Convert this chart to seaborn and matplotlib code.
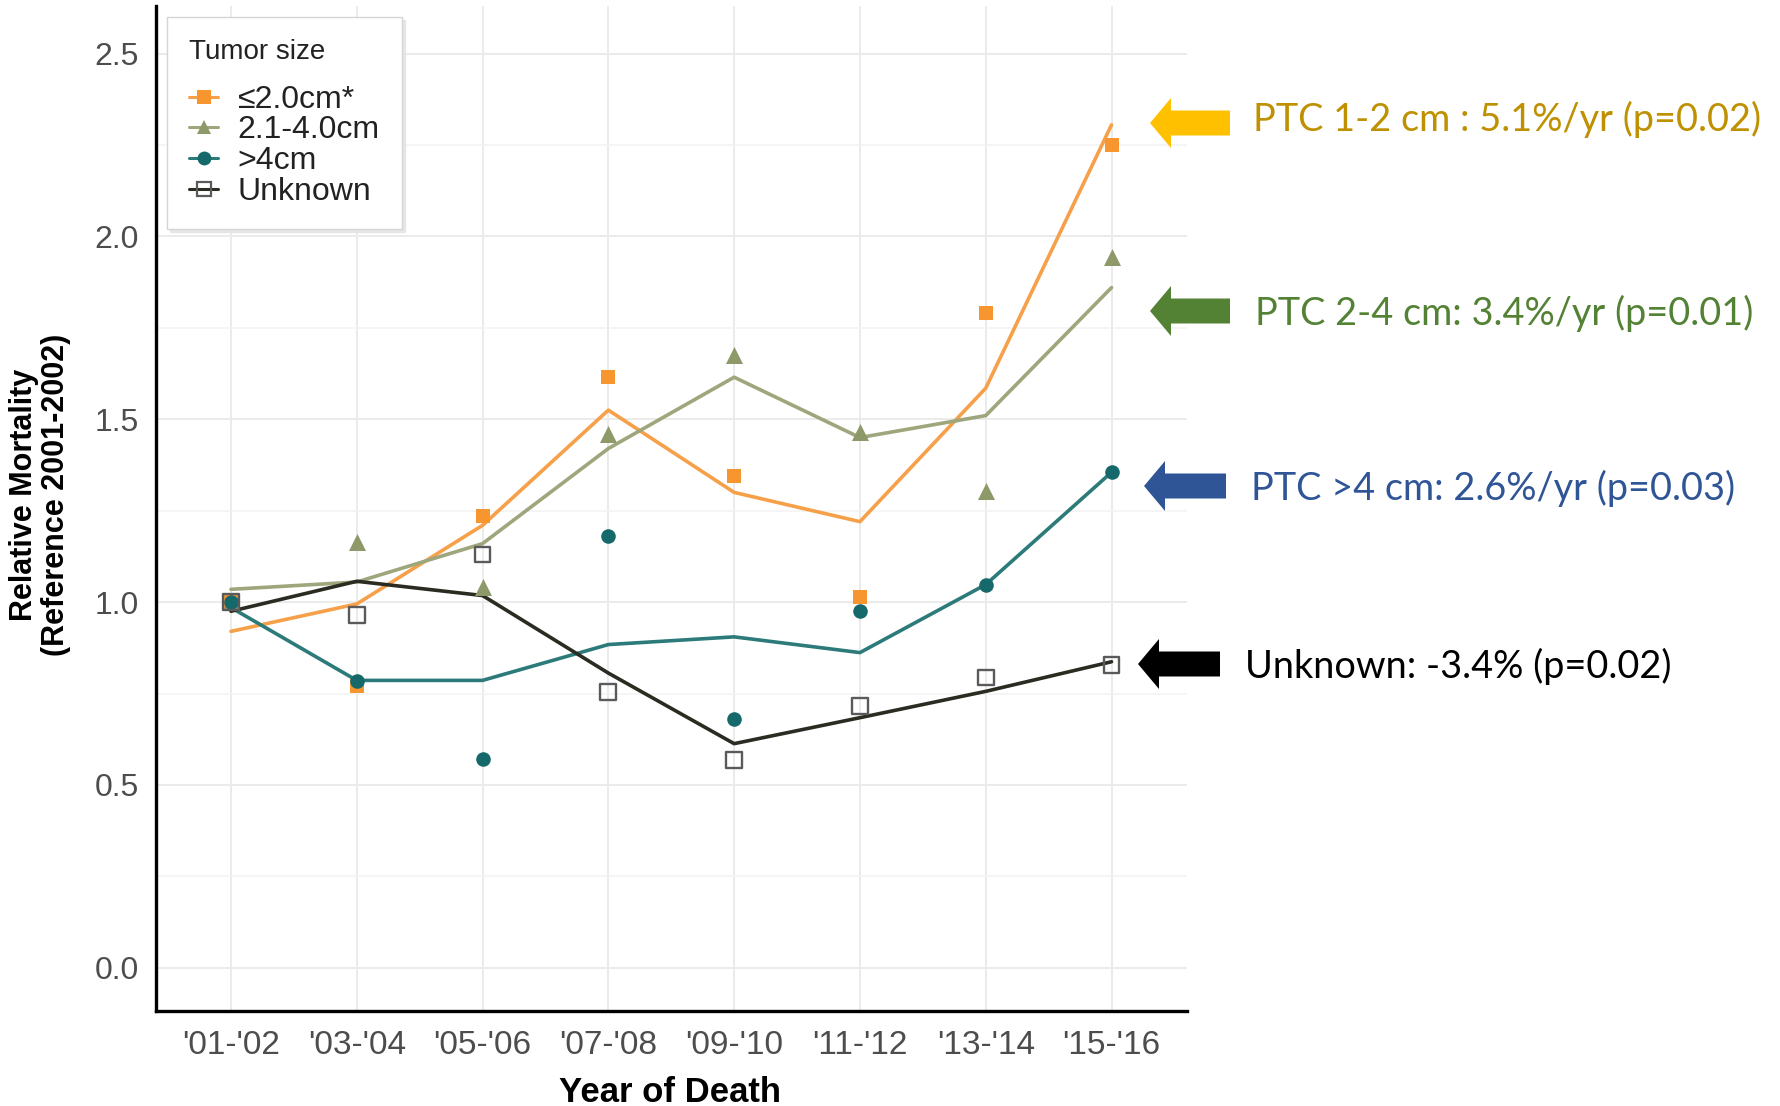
import numpy as np
import pandas as pd
import matplotlib
matplotlib.use("Agg")
import matplotlib.pyplot as plt
from matplotlib.lines import Line2D
from matplotlib.patches import FancyArrow
import seaborn as sns

# ---- data -------------------------------------------------------------
periods = ["'01-'02", "'03-'04", "'05-'06", "'07-'08",
           "'09-'10", "'11-'12", "'13-'14", "'15-'16"]
groups = ["\u22642.0cm*", "2.1-4.0cm", ">4cm", "Unknown"]

# observed relative mortality (points)
obs_le2 = [1.00, 0.77, 1.235, 1.615, 1.345, 1.015, 1.79, 2.25]
obs_mid = [1.00, 1.165, 1.04, 1.46, 1.675, 1.465, 1.305, 1.945]
obs_gt4 = [1.00, 0.785, 0.572, 1.18, 0.68, 0.975, 1.048, 1.355]
obs_unk = [1.00, 0.965, 1.13, 0.754, 0.569, 0.717, 0.794, 0.828]

# fitted trend (lines)
fit_le2 = [0.92, 0.995, 1.21, 1.525, 1.30, 1.22, 1.585, 2.305]
fit_mid = [1.035, 1.055, 1.16, 1.42, 1.615, 1.45, 1.51, 1.86]
fit_gt4 = [0.985, 0.786, 0.786, 0.884, 0.905, 0.862, 1.048, 1.355]
fit_unk = [0.975, 1.057, 1.018, 0.806, 0.613, 0.684, 0.756, 0.837]

y_ticks = [0.0, 0.5, 1.0, 1.5, 2.0, 2.5]
y_minor = [0.25, 0.75, 1.25, 1.75, 2.25]

trend_notes = ["PTC 1-2 cm : 5.1%/yr (p=0.02)",
               "PTC 2-4 cm: 3.4%/yr (p=0.01)",
               "PTC >4 cm: 2.6%/yr (p=0.03)",
               "Unknown: -3.4% (p=0.02)"]

rows = []
for g, obs, fit in zip(groups, [obs_le2, obs_mid, obs_gt4, obs_unk],
                       [fit_le2, fit_mid, fit_gt4, fit_unk]):
    for p, o, f in zip(periods, obs, fit):
        rows.append({"period": p, "group": g, "observed": o, "fitted": f})
df = pd.DataFrame(rows)

# ---- styling ----------------------------------------------------------
line_colors = {groups[0]: "#F6A04A", groups[1]: "#9EA67C",
               groups[2]: "#2C7A79", groups[3]: "#2B2B22"}
point_colors = {groups[0]: "#F7962F", groups[1]: "#8D9968",
                groups[2]: "#16696A", groups[3]: "#5A5A5A"}
point_markers = {groups[0]: "s", groups[1]: "^", groups[2]: "o", groups[3]: "s"}
point_sizes = {groups[0]: 110, groups[1]: 150, groups[2]: 110, groups[3]: 130}

sns.set_theme(style="white")
plt.rcParams["font.family"] = ["Liberation Sans", "DejaVu Sans"]

W, H = 1780, 1106
fig = plt.figure(figsize=(W / 100, H / 100), dpi=100)
ax_l, ax_r, ax_t, ax_b = 155.5, 1187, 6, 1011
ax = fig.add_axes([ax_l / W, 1 - ax_b / H, (ax_r - ax_l) / W, (ax_b - ax_t) / H])

# fitted trend lines
sns.lineplot(data=df, x="period", y="fitted", hue="group", hue_order=groups,
             palette=line_colors, linewidth=2.6, sort=False, legend=False,
             ax=ax, zorder=2)

# observed points
for g in groups:
    sub = df[df["group"] == g]
    if g == "Unknown":
        sns.scatterplot(data=sub, x="period", y="observed",
                        marker=point_markers[g], s=point_sizes[g],
                        color=point_colors[g], linewidth=1.7,
                        legend=False, ax=ax, zorder=3)
        coll = ax.collections[-1]
        coll.set_facecolor("none")
        coll.set_edgecolor(point_colors[g])
    else:
        sns.scatterplot(data=sub, x="period", y="observed",
                        marker=point_markers[g], s=point_sizes[g],
                        color=point_colors[g], linewidth=0,
                        legend=False, ax=ax, zorder=3)

ax.set_xlim(-0.6, 7.6)
ax.set_ylim(-0.118, 2.63)
ax.set_yticks(y_ticks)
ax.set_yticklabels([f"{v:.1f}" for v in y_ticks])
ax.set_yticks(y_minor, minor=True)

ax.set_axisbelow(True)
ax.grid(True, which="major", color="#EBEBEB", linewidth=1.4)
ax.grid(True, which="minor", axis="y", color="#F2F2F2", linewidth=1.1)

for side in ("top", "right"):
    ax.spines[side].set_visible(False)
for side in ("left", "bottom"):
    ax.spines[side].set_color("black")
    ax.spines[side].set_linewidth(2.4)

ax.tick_params(axis="both", which="major", direction="out", length=5,
               width=1.4, color="black", labelcolor="#4D4D4D")
ax.tick_params(axis="y", which="major", labelsize=23, pad=7)
ax.tick_params(axis="x", which="major", labelsize=24, pad=9)
ax.tick_params(which="minor", length=0)

ax.set_xlabel("Year of Death", fontsize=25, fontweight="bold", color="black")
ax.xaxis.set_label_coords(0.499, -0.081)
ax.xaxis.label.set_va("center")
ax.set_ylabel("Relative Mortality\n(Reference 2001-2002)", fontsize=22,
              fontweight="bold", color="black", linespacing=1.12)
ax.yaxis.set_label_coords(-0.112, 0.514)
ax.yaxis.label.set_va("center")
ax.yaxis.label.set_ha("center")

# legend with line + marker keys
handles = []
for g in groups:
    unfilled = g == "Unknown"
    handles.append(Line2D([0], [0], color=line_colors[g], linewidth=2.2,
                          marker=point_markers[g], markersize=10,
                          markerfacecolor="none" if unfilled else point_colors[g],
                          markeredgecolor=point_colors[g],
                          markeredgewidth=1.6 if unfilled else 0))
leg = ax.legend(handles, groups, title="Tumor size", loc="upper left",
                bbox_to_anchor=(167 / W, 1 - 17 / H),
                bbox_transform=fig.transFigure, borderaxespad=0,
                fontsize=23, title_fontsize=20, frameon=True, fancybox=False,
                edgecolor="#D5D5D5", facecolor="white", framealpha=1,
                handlelength=0.9, handletextpad=0.6, labelspacing=0.02,
                borderpad=0.7, shadow={"color": "#E2E2E2", "alpha": 0.8})
leg.get_frame().set_linewidth(1.0)
leg._legend_box.align = "left"
leg._legend_box.sep = 14
leg.get_title().set_color("#222222")
for t in leg.get_texts():
    t.set_color("#222222")

# ---- trend annotations on the right ----------------------------------
ov = fig.add_axes([0, 0, 1, 1], zorder=5)
ov.set_xlim(0, W)
ov.set_ylim(H, 0)
ov.axis("off")
ov.patch.set_alpha(0)

notes = [
    # text, arrow color, text color, arrow tip x, tail x, arrow y, text x, text y
    (trend_notes[0], "#FFC000", "#BF9000", 1150, 1230, 123, 1253, 119),
    (trend_notes[1], "#548235", "#548235", 1150, 1230, 311, 1255, 313),
    (trend_notes[2], "#2F5597", "#2F5597", 1144, 1226, 486, 1251, 488),
    (trend_notes[3], "#000000", "#000000", 1138, 1220, 664, 1245, 666),
]
for txt, acol, tcol, tip, tail, ay, tx, ty in notes:
    ov.add_patch(FancyArrow(tail, ay, tip - tail, 0, width=25, head_width=50,
                            head_length=21, length_includes_head=True,
                            color=acol, linewidth=0))
    ov.text(tx, ty, txt, color=tcol, fontsize=27.3, ha="left", va="center",
            family=["Lato", "DejaVu Sans"])

fig.savefig("out.png", dpi=100, facecolor="white")
